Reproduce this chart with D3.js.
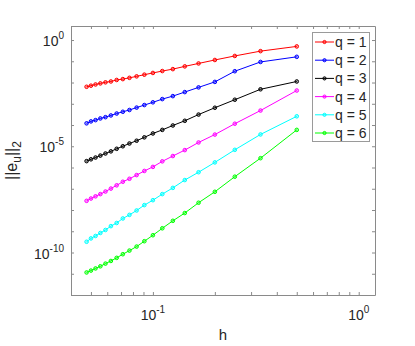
<!DOCTYPE html>
<html>
<head>
<meta charset="utf-8">
<script src="https://cdn.jsdelivr.net/npm/d3@7"></script>
<style>
  body { margin: 0; background: #fff; }
  svg { font-family: "Liberation Sans", Arial, sans-serif; }
</style>
</head>
<body>
<script>
// Width and height
var w = 415;
var h = 346;

// mesh sizes h = 1/n, n = 2..21
var hValues = [1/2, 1/3, 1/4, 1/5, 1/6, 1/7, 1/8, 1/9, 1/10, 1/11,
               1/12, 1/13, 1/14, 1/15, 1/16, 1/17, 1/18, 1/19, 1/20, 1/21];

var seriesNames = ["q = 1", "q = 2", "q = 3", "q = 4", "q = 5", "q = 6"];
var seriesColors = ["#ff0000", "#0000ff", "#000000", "#ff00ff", "#00ffff", "#00ff00"];

var errQ1 = [5.0e-1, 3.0e-1, 1.78e-1, 1.15e-1, 7.9e-2, 5.75e-2, 4.27e-2, 3.47e-2, 2.82e-2, 2.34e-2,
             1.95e-2, 1.66e-2, 1.45e-2, 1.32e-2, 1.12e-2, 1.02e-2, 9.1e-3, 8.1e-3, 7.1e-3, 6.3e-3];
var errQ2 = [1.62e-1, 9.3e-2, 3.4e-2, 1.07e-2, 5.9e-3, 3.55e-3, 2.29e-3, 1.66e-3, 1.17e-3, 8.7e-4,
             6.6e-4, 5.1e-4, 4.2e-4, 3.47e-4, 2.82e-4, 2.34e-4, 2.04e-4, 1.70e-4, 1.48e-4, 1.20e-4];
var errQ3 = [1.12e-2, 4.8e-3, 1.55e-3, 6.5e-4, 3.1e-4, 1.58e-4, 9.5e-5, 5.9e-5, 4.0e-5, 2.63e-5,
             1.82e-5, 1.35e-5, 1.0e-5, 7.6e-6, 5.75e-6, 4.57e-6, 3.63e-6, 2.95e-6, 2.43e-6, 2.0e-6];
var errQ4 = [4.2e-3, 4.8e-4, 1.15e-4, 3.55e-5, 1.51e-5, 6.6e-6, 3.47e-6, 1.95e-6, 1.07e-6, 6.9e-7,
             4.4e-7, 2.95e-7, 2.14e-7, 1.45e-7, 1.02e-7, 7.4e-8, 5.6e-8, 4.4e-8, 3.47e-8, 2.7e-8];
var errQ5 = [2.57e-4, 3.6e-5, 6.8e-6, 1.74e-6, 6.0e-7, 2.57e-7, 1.1e-7, 5.6e-8, 2.9e-8, 1.7e-8,
             9.5e-9, 5.9e-9, 4.0e-9, 2.45e-9, 1.74e-9, 1.15e-9, 8.3e-10, 6.0e-10, 4.6e-10, 3.2e-10];
var errQ6 = [5.9e-5, 2.75e-6, 3.7e-7, 7.2e-8, 2.2e-8, 7.2e-9, 3.1e-9, 1.38e-9, 6.5e-10, 3.4e-10,
             1.9e-10, 1.23e-10, 8.3e-11, 5.6e-11, 4.0e-11, 3.0e-11, 2.24e-11, 1.78e-11, 1.41e-11, 1.15e-11];

var allErrors = [errQ1, errQ2, errQ3, errQ4, errQ5, errQ6];

var xTicks = [0.04, 0.05, 0.06, 0.07, 0.08, 0.09, 0.1, 0.2, 0.3, 0.4, 0.5, 0.6, 0.7, 0.8, 0.9, 1];
var xLabelTicks = [{v: 0.1, base: "10", exp: "-1"}, {v: 1, base: "10", exp: "0"}];
var yTicks = [1e-12, 1e-11, 1e-10, 1e-9, 1e-8, 1e-7, 1e-6, 1e-5, 1e-4, 1e-3, 1e-2, 1e-1, 1];
var yLabelTicks = [{v: 1, base: "10", exp: "0"}, {v: 1e-5, base: "10", exp: "-5"}, {v: 1e-10, base: "10", exp: "-10"}];

var plotLeft = 71, plotRight = 375, plotTop = 26, plotBottom = 295;
var axisColor = "#8a8a8a";
var textColor = "#262626";

var xScale = d3.scaleLog()
    .domain([0.04, 1.2])
    .range([plotLeft, plotRight]);

var yScale = d3.scaleLog()
    .domain([1e-12, Math.pow(10, 0.66)])
    .range([plotBottom, plotTop]);

//Create SVG element
var svg = d3.select("body")
    .append("svg")
    .attr("width", w)
    .attr("height", h);

svg.append("rect")
    .attr("width", w)
    .attr("height", h)
    .attr("fill", "#fff");

// axes (box on, ticks inward)
function styleAxis(g) {
    g.select(".domain").attr("stroke", axisColor);
    g.selectAll(".tick line").attr("stroke", axisColor);
    g.selectAll(".tick text").remove();
}

svg.append("g")
    .attr("transform", "translate(0," + plotBottom + ")")
    .call(d3.axisBottom(xScale).tickValues(xTicks).tickSize(-3).tickSizeOuter(0))
    .call(styleAxis);
svg.append("g")
    .attr("transform", "translate(0," + plotTop + ")")
    .call(d3.axisTop(xScale).tickValues(xTicks).tickSize(-3).tickSizeOuter(0))
    .call(styleAxis);
svg.append("g")
    .attr("transform", "translate(" + plotLeft + ",0)")
    .call(d3.axisLeft(yScale).tickValues(yTicks).tickSize(-3).tickSizeOuter(0))
    .call(styleAxis);
svg.append("g")
    .attr("transform", "translate(" + plotRight + ",0)")
    .call(d3.axisRight(yScale).tickValues(yTicks).tickSize(-3).tickSizeOuter(0))
    .call(styleAxis);

// tick labels with superscripts
svg.selectAll(".xlab")
    .data(xLabelTicks)
    .enter()
    .append("text")
    .attr("class", "xlab")
    .attr("x", function(d) { return xScale(d.v); })
    .attr("y", 320)
    .attr("text-anchor", "middle")
    .attr("font-size", "14px")
    .attr("fill", textColor)
    .each(function(d) {
        var t = d3.select(this);
        t.append("tspan").text(d.base);
        t.append("tspan").attr("dy", -7).attr("font-size", "10px").text(d.exp);
    });

svg.selectAll(".ylab")
    .data(yLabelTicks)
    .enter()
    .append("text")
    .attr("class", "ylab")
    .attr("x", 64)
    .attr("y", function(d) { return yScale(d.v) + 6; })
    .attr("text-anchor", "end")
    .attr("font-size", "14px")
    .attr("fill", textColor)
    .each(function(d) {
        var t = d3.select(this);
        t.append("tspan").text(d.base);
        t.append("tspan").attr("dy", -7).attr("font-size", "10px").text(d.exp);
    });

// axis labels
svg.append("text")
    .attr("x", (plotLeft + plotRight) / 2)
    .attr("y", 340)
    .attr("text-anchor", "middle")
    .attr("font-size", "15px")
    .attr("fill", textColor)
    .text("h");

var yl = svg.append("text")
    .attr("transform", "translate(17," + (plotTop + plotBottom) / 2 + ") rotate(-90)")
    .attr("text-anchor", "middle")
    .attr("font-size", "16px")
    .attr("fill", textColor);
yl.append("tspan").text("||e");
yl.append("tspan").attr("dy", 4).attr("font-size", "12px").text("u");
yl.append("tspan").attr("dy", -4).text("||");
yl.append("tspan").attr("dy", 4).attr("font-size", "12px").text("2");

// series
var line = d3.line()
    .x(function(d) { return xScale(d[0]); })
    .y(function(d) { return yScale(d[1]); });

allErrors.forEach(function(errs, i) {
    var pts = hValues.map(function(hv, j) { return [hv, errs[j]]; });
    svg.append("path")
        .datum(pts)
        .attr("d", line)
        .attr("fill", "none")
        .attr("stroke", seriesColors[i])
        .attr("stroke-width", 1);
    svg.selectAll(".m" + i)
        .data(pts)
        .enter()
        .append("circle")
        .attr("class", "m" + i)
        .attr("cx", function(d) { return xScale(d[0]); })
        .attr("cy", function(d) { return yScale(d[1]); })
        .attr("r", 1.8)
        .attr("fill", seriesColors[i])
        .attr("fill-opacity", 0.35)
        .attr("stroke", seriesColors[i])
        .attr("stroke-width", 1);
});

// legend
var legend = svg.append("g");
legend.append("rect")
    .attr("x", 312.5)
    .attr("y", 32.5)
    .attr("width", 57)
    .attr("height", 109)
    .attr("fill", "#fff")
    .attr("stroke", "#9a9a9a")
    .attr("stroke-width", 1);

var items = legend.selectAll(".item")
    .data(seriesNames)
    .enter()
    .append("g")
    .attr("class", "item")
    .attr("transform", function(d, i) { return "translate(0," + (42 + i * 18.2) + ")"; });

items.append("line")
    .attr("x1", 315)
    .attr("x2", 334)
    .attr("stroke", function(d, i) { return seriesColors[i]; })
    .attr("stroke-width", 1);
items.append("circle")
    .attr("cx", 324.5)
    .attr("r", 1.6)
    .attr("fill", function(d, i) { return seriesColors[i]; })
    .attr("fill-opacity", 0.35)
    .attr("stroke", function(d, i) { return seriesColors[i]; });
items.append("text")
    .attr("x", 335)
    .attr("y", 5)
    .attr("font-size", "14px")
    .attr("fill", textColor)
    .text(function(d) { return d; });
</script>
</body>
</html>
